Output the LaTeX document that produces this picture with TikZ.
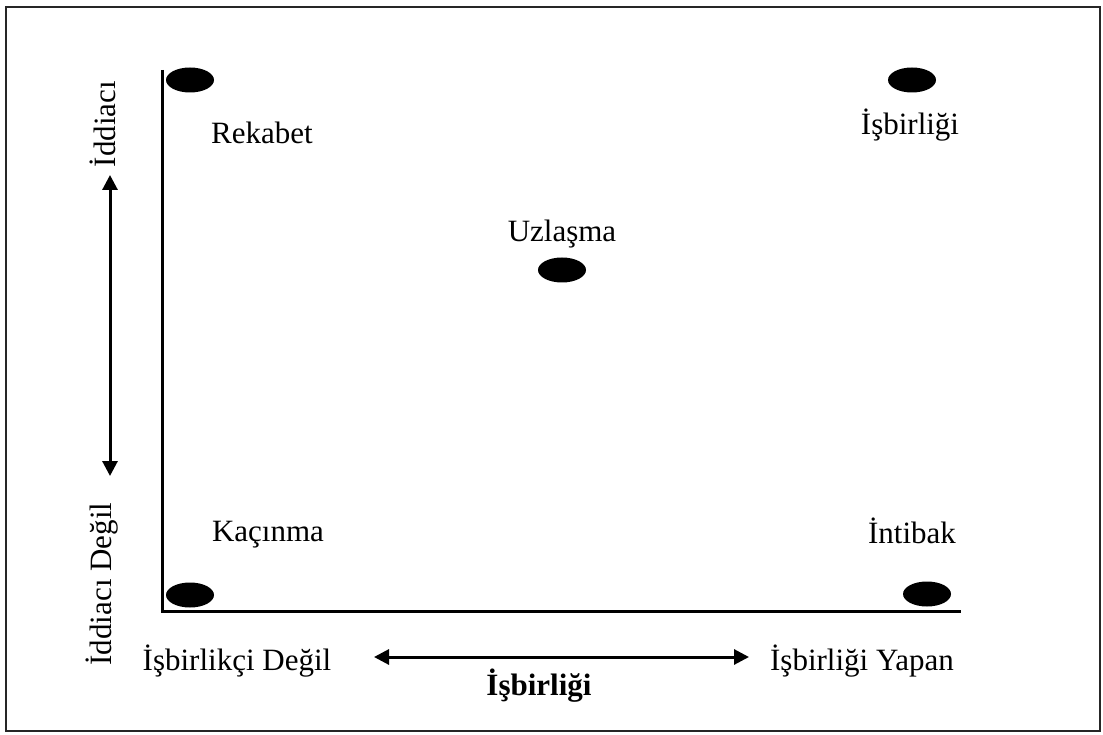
\documentclass[tikz,border=0pt]{standalone}
\usepackage{fontspec}
\setmainfont{Liberation Serif}
\usetikzlibrary{arrows.meta,shapes.geometric}
\begin{document}
\begin{tikzpicture}[x=1pt,y=-1pt,
  dot/.style={ellipse,fill=black,minimum width=48pt,minimum height=25pt,inner sep=0pt},
  lbl/.style={font=\fontsize{31}{33}\selectfont,inner sep=0pt},
  ax/.style={line width=3pt},
  dbl/.style={line width=3pt,{Triangle[length=15pt,width=15pt]}-{Triangle[length=15pt,width=15pt]}}]
\useasboundingbox (0,0) rectangle (1103,735);
\draw[line width=2pt,black!85] (6,7) rectangle (1100,731);
\coordinate (top) at (162,70);
\coordinate (orig) at (162,611);
\coordinate (right) at (961,611);
\draw[ax] (top) -- (orig) -- (right);
\node[dot] (d1) at (190,80) {};
\node[dot] (d2) at (912,80) {};
\node[dot] (d3) at (562,270) {};
\node[dot] (d4) at (190,595) {};
\node[dot] (d5) at (927,594) {};
\node[lbl] (rek) at (262,133) {Rekabet};
\node[lbl] (isb) at (910,125) {İşbirliği};
\node[lbl] (uzl) at (562,234) {Uzlaşma};
\node[lbl] (kac) at (268,535) {Kaçınma};
\node[lbl] (int) at (912,531) {İntibak};
\node[lbl,rotate=90] (idd) at (103,124) {İddiacı};
\node[lbl,rotate=90] (iddd) at (102,584) {İddiacı Değil};
\coordinate (va) at (110,175);
\coordinate (vb) at (110,476);
\draw[dbl] (va) -- (vb);
\node[lbl] (isd) at (237,661) {İşbirlikçi Değil};
\node[lbl] (isy) at (862,661) {İşbirliği Yapan};
\coordinate (ha) at (374,657);
\coordinate (hb) at (749,657);
\draw[dbl] (ha) -- (hb);
\node[lbl,font=\fontsize{31}{33}\selectfont\bfseries] (isbb) at (539,686) {İşbirliği};
\end{tikzpicture}
\end{document}
